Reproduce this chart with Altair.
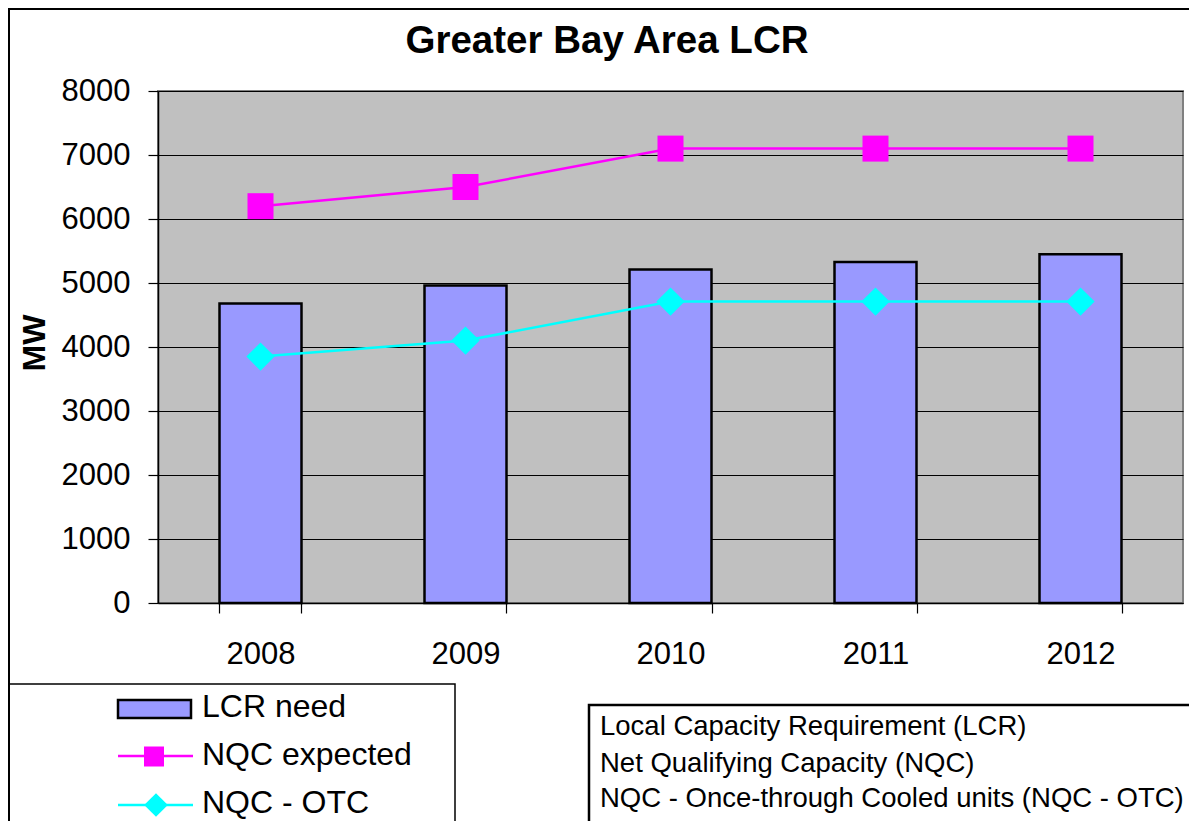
import altair as alt
import pandas as pd

years = ["2008", "2009", "2010", "2011", "2012"]
lcr_need = [4680, 4960, 5210, 5330, 5450]
nqc_expected = [6200, 6500, 7100, 7100, 7100]
nqc_otc = [3850, 4100, 4710, 4710, 4710]
y_ticks = [0, 1000, 2000, 3000, 4000, 5000, 6000, 7000, 8000]

title_text = "Greater Bay Area LCR"
y_title = "MW"
legend_labels = ["LCR need", "NQC expected", "NQC - OTC"]
notes = [
    "Local Capacity Requirement (LCR)",
    "Net Qualifying Capacity (NQC)",
    "NQC - Once-through Cooled units (NQC - OTC)",
]

FONT = "Liberation Sans"
BAR = "#9999FF"
MAG = "#FF00FF"
CYA = "#00FFFF"

df = pd.DataFrame({"year": years, "lcr": lcr_need, "nqc": nqc_expected, "otc": nqc_otc})

xenc = alt.X(
    "year:N",
    title=None,
    scale=alt.Scale(paddingInner=0.6, paddingOuter=0.3),
    axis=alt.Axis(
        labelFont=FONT, labelFontSize=31, labelColor="black", labelAngle=0,
        labelPadding=26, tickSize=10, tickColor="black", tickWidth=1.2,
        domainColor="black", domainWidth=1.5, tickBand="extent", grid=False,
    ),
)
yscale = alt.Scale(domain=[0, 8000], nice=False)
yaxis = alt.Axis(
    values=y_ticks, format="d", title=None, labelFont=FONT, labelFontSize=31, labelColor="black",
    labelPadding=18, tickSize=10, tickColor="black", tickWidth=1.2,
    domainColor="black", domainWidth=1.5, grid=True, gridColor="black", gridWidth=1,
)

base = alt.Chart(df)
bars = base.mark_bar(color=BAR, stroke="black", strokeWidth=2.5).encode(
    x=xenc, y=alt.Y("lcr:Q", scale=yscale, axis=yaxis)
)
nqc_line = base.mark_line(color=MAG, strokeWidth=2.5).encode(x=xenc, y=alt.Y("nqc:Q", scale=yscale))
nqc_pts = base.mark_point(shape="square", filled=True, size=676, color=MAG, opacity=1).encode(
    x=xenc, y=alt.Y("nqc:Q", scale=yscale)
)
otc_line = base.mark_line(color=CYA, strokeWidth=2.5).encode(x=xenc, y=alt.Y("otc:Q", scale=yscale))
otc_pts = base.mark_point(shape="diamond", filled=True, size=800, color=CYA, opacity=1).encode(
    x=xenc, y=alt.Y("otc:Q", scale=yscale)
)

one = pd.DataFrame({"k": [0]})


def box(x, x2, y, y2, sw):
    return alt.Chart(one).mark_rect(filled=False, stroke="black", strokeWidth=sw).encode(
        x=alt.value(x), x2=alt.value(x2), y=alt.value(y), y2=alt.value(y2)
    )


def label(text, x, y, size, bold=False, angle=0, align="left", baseline="alphabetic"):
    d = pd.DataFrame({"t": [text]})
    kw = dict(font=FONT, fontSize=size, color="black", align=align, baseline=baseline)
    if bold:
        kw["fontWeight"] = "bold"
    if angle:
        kw["angle"] = angle
    return alt.Chart(d).mark_text(**kw).encode(text="t:N", x=alt.value(x), y=alt.value(y))


frame = box(-149, 1100, -82, 800, 2)
legend_box = box(-149, 297, 593, 800, 1.5)
notes_box = box(431, 1100, 614, 800, 2.5)

sw_bar = alt.Chart(one).mark_rect(fill=BAR, stroke="black", strokeWidth=2.5).encode(
    x=alt.value(-40), x2=alt.value(33), y=alt.value(609), y2=alt.value(627)
)
lg_mag_line = alt.Chart(one).mark_rule(color=MAG, strokeWidth=2.5).encode(
    x=alt.value(-40), x2=alt.value(35), y=alt.value(665)
)
lg_mag_pt = alt.Chart(one).mark_point(shape="square", filled=True, size=400, color=MAG, opacity=1).encode(
    x=alt.value(-4), y=alt.value(665.5)
)
lg_cya_line = alt.Chart(one).mark_rule(color=CYA, strokeWidth=2.5).encode(
    x=alt.value(-40), x2=alt.value(35), y=alt.value(714)
)
lg_cya_pt = alt.Chart(one).mark_point(shape="diamond", filled=True, size=560, color=CYA, opacity=1).encode(
    x=alt.value(-2), y=alt.value(714)
)

texts = [
    label(title_text, 449, -38, 38.5, bold=True, align="center"),
    label(y_title, -123, 252, 32, bold=True, angle=270, align="center", baseline="middle"),
    label(legend_labels[0], 44, 626, 32),
    label(legend_labels[1], 44, 674, 32),
    label(legend_labels[2], 44, 722, 32),
    label(notes[0], 442, 644, 27.5),
    label(notes[1], 442, 681, 27.5),
    label(notes[2], 442, 716, 27.5),
]

chart = alt.layer(
    frame, bars, nqc_line, otc_line, nqc_pts, otc_pts,
    legend_box, notes_box, sw_bar, lg_mag_line, lg_mag_pt, lg_cya_line, lg_cya_pt,
    *texts,
).properties(
    width=1025,
    height=512,
    autosize=alt.AutoSizeParams(type="none"),
    padding={"left": 150, "top": 83, "right": 6, "bottom": 218},
    background="white",
).configure_view(
    fill="#C0C0C0", stroke="#808080", strokeWidth=2
)

chart.save("out.html", embed_options={"renderer": "svg", "actions": False})
